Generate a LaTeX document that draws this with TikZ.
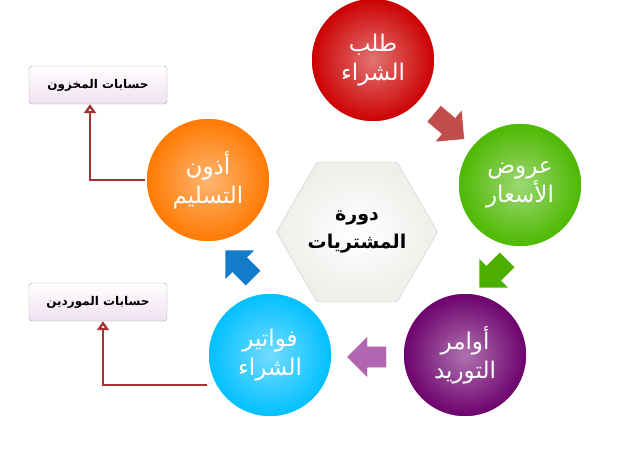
\documentclass[tikz,border=0pt]{standalone}
\usepackage{fontspec}
\usetikzlibrary{shapes.geometric,shapes.arrows,arrows.meta}
\newfontfamily\arabicfont[Script=Arabic]{DejaVu Sans}
\TeXXeTstate=1
\begin{document}
\begin{tikzpicture}[x=1pt,y=-1pt,
 circ/.style={circle,minimum size=124pt,inner sep=0pt,inner color=#1!55!white,outer color=#1,draw=white,line width=1.5pt,text=white,font=\arabicfont\fontsize{23}{29}\selectfont,align=center},
 blk/.style={single arrow,minimum height=40pt,minimum width=42pt,single arrow head extend=5pt,inner sep=5pt,fill=#1,draw=white},
 acct/.style={draw=gray!70,rounded corners=3pt,top color=white,bottom color=violet!12,minimum width=138pt,minimum height=38pt,font=\arabicfont\bfseries\fontsize{12}{14}\selectfont},
 link/.style={draw=red!55!black!80,line width=2.5pt,-{Triangle[open,length=9pt,width=12pt]}}]
\useasboundingbox (0,0) rectangle (623,452);
\node[circ=red!80!black] (r) at (373,60) {\beginR طلب\endR\\\beginR الشراء\endR};
\node[circ=green!60!black!70!yellow] (g) at (520,185) {\beginR عروض\endR\\\beginR الأسعار\endR};
\node[circ=violet!85!black] (p) at (465,355) {\beginR أوامر\endR\\\beginR التوريد\endR};
\node[circ=cyan!75!blue] (b) at (270,355) {\beginR فواتير\endR\\\beginR الشراء\endR};
\node[circ=orange!95!red] (o) at (208,180) {\beginR أذون\endR\\\beginR التسليم\endR};
\node[regular polygon,regular polygon sides=6,minimum size=134pt,inner sep=0pt,draw=gray!40,inner color=white,outer color=yellow!10!gray!15,
 font=\arabicfont\bfseries\fontsize{19}{28}\selectfont,align=center] (h) at (357,232) {\beginR دورة\endR\\\beginR المشتريات\endR};
\node[blk=red!65!black!70,rotate=-40] (a1) at (445,123) {};
\node[blk=green!55!black!70!yellow,rotate=-135] (a2) at (497,270) {};
\node[blk=violet!60,rotate=180] (a3) at (372,357) {};
\node[blk=cyan!60!blue,rotate=135] (a4) at (243,268) {};
\node[acct] (s1) at (98,85) {\beginR حسابات المخزون\endR};
\node[acct] (s2) at (98,302) {\beginR حسابات الموردين\endR};
\coordinate (c1) at (90,180);
\coordinate (c2) at (103,385);
\draw[link] (o.west) -- (c1) -- (c1|-s1.south);
\draw[link] (b.west|-c2) -- (c2) -- (c2|-s2.south);
\end{tikzpicture}
\end{document}
